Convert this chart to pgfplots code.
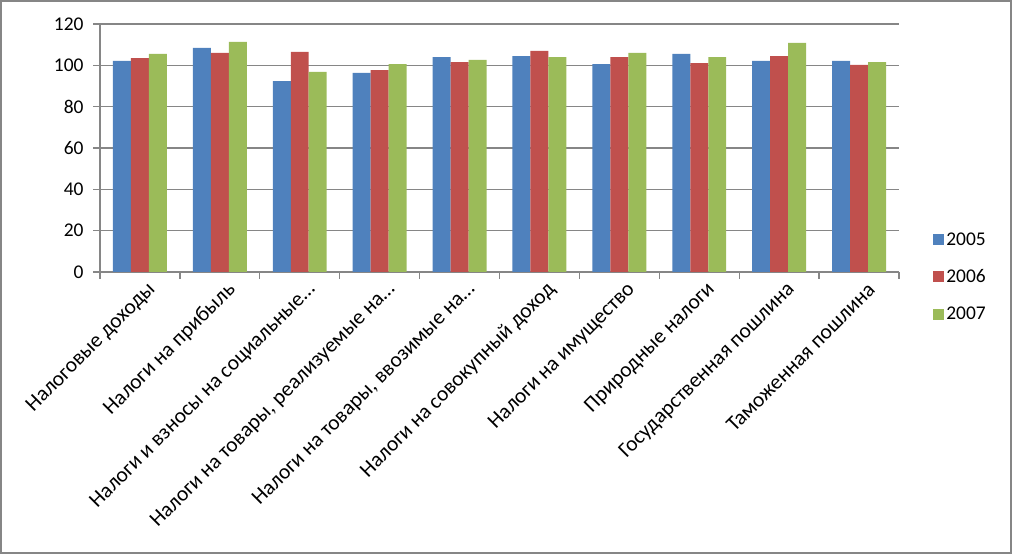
\documentclass[border=0pt]{standalone}
\usepackage{fontspec}
\setmainfont{Carlito}
\usepackage{pgfplots}
\pgfplotsset{compat=1.18}
\definecolor{cBlue}{HTML}{4F81BD}
\definecolor{cRed}{HTML}{C0504D}
\definecolor{cGreen}{HTML}{9BBB59}
\definecolor{cGrid}{HTML}{868686}
\begin{document}
\begin{tikzpicture}[x=1bp,y=1bp]
\path[use as bounding box] (0,0) rectangle (1012,554);
\draw[cGrid, line width=2bp] (1,1) rectangle (1010.5,553);
\begin{axis}[
  at={(100bp,282bp)}, anchor=south west,
  scale only axis, width=799bp, height=248bp,
  ybar=0pt, bar width=0.225,
  xmin=-0.5, xmax=9.5, ymin=0, ymax=120,
  ytick={0,20,...,120},
  xtick={-0.5,0.5,...,9.5},
  xticklabel=\empty,
  extra x ticks={0,...,9},
  extra x tick labels={Налоговые доходы, Налоги на прибыль, Налоги и взносы на социальные…, {Налоги на товары, реализуемые на…}, {Налоги на товары, ввозимые на…}, Налоги на совокупный доход, Налоги на имущество, Природные налоги, Государственная пошлина, Таможенная пошлина},
  extra x tick style={major tick length=0pt, xticklabel style={rotate=45, anchor=east, xshift=2bp, yshift=-19bp, font=\fontsize{21.5}{25}\selectfont}},
  axis lines*=left,
  axis line style={draw=cGrid, line width=1.3bp, -},
  ymajorgrids, grid style={draw=cGrid, line width=1.3bp},
  tick style={draw=cGrid, line width=1.3bp},
  tick align=outside, major tick length=7bp,
  /pgf/number format/assume math mode=true,
  tick label style={font=\fontsize{19.5}{23}\selectfont, text=black},
  yticklabel style={xshift=-6bp},
  legend style={draw=none, fill=none, at={(1.039,-0.02)}, anchor=west,
    font=\fontsize{19.5}{23}\selectfont, row sep=19bp, legend cell align=left},
  legend image code/.code={\fill[#1] (0bp,-5.5bp) rectangle (11bp,5.5bp);},
]
\addplot[fill=cBlue, draw=none] coordinates {(0,102.1) (1,108.4) (2,92.4) (3,96.3) (4,104.0) (5,104.5) (6,100.6) (7,105.5) (8,102.1) (9,102.1)};
\addplot[fill=cRed, draw=none] coordinates {(0,103.5) (1,106.0) (2,106.5) (3,97.7) (4,101.6) (5,107.0) (6,104.0) (7,101.1) (8,104.5) (9,100.2)};
\addplot[fill=cGreen, draw=none] coordinates {(0,105.5) (1,111.3) (2,96.8) (3,100.6) (4,102.6) (5,104.0) (6,106.0) (7,104.0) (8,110.8) (9,101.6)};
\legend{2005,2006,2007}
\end{axis}
\end{tikzpicture}
\end{document}
